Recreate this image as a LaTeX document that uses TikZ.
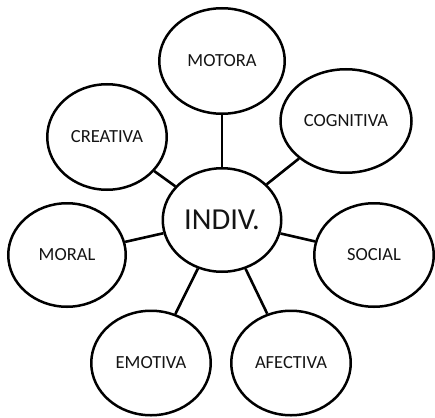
\documentclass[tikz,border=0pt]{standalone}
\usepackage{fontspec}
\setmainfont{Carlito}
\usetikzlibrary{shapes.geometric}
\begin{document}
\begin{tikzpicture}[x=1pt,y=-1pt,
  bub/.style={draw=black, line width=2.5pt, ellipse, inner sep=0pt, fill=white,
    font=\fontsize{18.5}{21}\selectfont, text=black!92},
  link/.style={draw=black, line width=2.6pt}]
\useasboundingbox (0,0) rectangle (435,417);
\node[bub, minimum width=118.5pt, minimum height=103.5pt, font=\fontsize{30.5}{33}\selectfont] (c) at (222,220) {INDIV.};
\node[bub, minimum width=125.5pt, minimum height=105.5pt] (mot) at (222,61) {MOTORA};
\node[bub, minimum width=131pt, minimum height=103.5pt] (cog) at (346,121) {COGNITIVA};
\node[bub, minimum width=119.5pt, minimum height=105.5pt] (cre) at (107,137) {CREATIVA};
\node[bub, minimum width=117.5pt, minimum height=103.5pt] (mor) at (67,255) {MORAL};
\node[bub, minimum width=119.5pt, minimum height=103.5pt] (soc) at (374,255) {SOCIAL};
\node[bub, minimum width=119.5pt, minimum height=104.5pt] (emo) at (151,363) {EMOTIVA};
\node[bub, minimum width=119.5pt, minimum height=104.5pt] (afe) at (291,363) {AFECTIVA};
\foreach \n in {mot,cog,cre,mor,soc,emo,afe} \draw[link] (c) -- (\n);
\end{tikzpicture}
\end{document}
